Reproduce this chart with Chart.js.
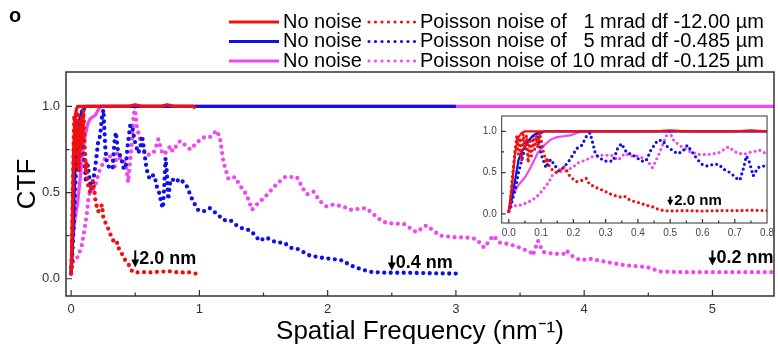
<!DOCTYPE html>
<html>
<head>
<meta charset="utf-8">
<script src="https://cdn.jsdelivr.net/npm/chart.js@4.4.1/dist/chart.umd.min.js"></script>
<style>
  body { margin: 0; background: #fff; }
  #wrap { position: relative; width: 778px; height: 348px; overflow: hidden; }
  #main { position: absolute; left: 0; top: 0; }
  #inset { position: absolute; left: 460px; top: 105px; }
</style>
</head>
<body>
<div id="wrap">
  <canvas id="main" width="778" height="348"></canvas>
  <canvas id="inset" width="318" height="140"></canvas>
</div>
<script>
// series: spatial frequency (nm^-1) and CTF values
const redSolidFreq = [0, 0.01, 0.02, 0.03, 0.04, 0.05, 0.1, 0.15, 0.2, 0.25, 0.3, 0.35, 0.4, 0.45, 0.5, 0.55, 0.6, 0.65, 0.7, 0.75, 0.8, 0.85, 0.9, 0.95, 0.97];
const redSolidCtf  = [0.03, 0.35, 0.75, 0.93, 0.98, 1.0, 1.0, 1.0, 1.0, 1.0, 1.0, 1.0, 1.0, 1.0, 1.01, 1.0, 1.0, 1.0, 1.0, 1.01, 1.0, 1.0, 1.0, 1.0, 0.99];

const redDotFreq = [0, 0.005, 0.01, 0.015, 0.02, 0.025, 0.03, 0.035, 0.04, 0.045, 0.05, 0.055, 0.06, 0.065, 0.07, 0.075, 0.08, 0.085, 0.09, 0.095, 0.1, 0.105, 0.11, 0.115, 0.12, 0.125, 0.13, 0.14, 0.15, 0.16, 0.17, 0.18, 0.19, 0.2, 0.21, 0.22, 0.23, 0.24, 0.25, 0.26, 0.27, 0.28, 0.29, 0.3, 0.31, 0.32, 0.33, 0.34, 0.35, 0.36, 0.37, 0.38, 0.39, 0.4, 0.41, 0.42, 0.43, 0.44, 0.45, 0.46, 0.47, 0.48, 0.5, 0.55, 0.6, 0.65, 0.7, 0.75, 0.8, 0.85, 0.9, 0.97];
const redDotCtf  = [0.03, 0.15, 0.4, 0.6, 0.8, 0.95, 0.72, 0.92, 0.65, 0.97, 0.78, 0.95, 0.62, 0.88, 0.7, 0.92, 0.78, 0.95, 0.8, 0.98, 0.9, 0.78, 0.72, 0.62, 0.68, 0.58, 0.55, 0.52, 0.5, 0.54, 0.57, 0.52, 0.45, 0.42, 0.39, 0.4, 0.41, 0.43, 0.36, 0.34, 0.32, 0.3, 0.29, 0.27, 0.25, 0.23, 0.22, 0.21, 0.2, 0.21, 0.18, 0.16, 0.15, 0.14, 0.13, 0.11, 0.1, 0.09, 0.08, 0.06, 0.05, 0.04, 0.035, 0.04, 0.035, 0.04, 0.04, 0.045, 0.04, 0.035, 0.04, 0.03];

const blueSolidFreq = [0, 0.01, 0.02, 0.03, 0.04, 0.05, 0.06, 0.07, 0.08, 0.09, 0.1, 0.11, 3.0];
const blueSolidCtf  = [0.03, 0.2, 0.42, 0.65, 0.75, 0.82, 0.88, 0.93, 0.96, 0.98, 0.98, 1.0, 1.0];

const blueDotFreq = [0, 0.01, 0.02, 0.03, 0.04, 0.05, 0.06, 0.07, 0.08, 0.09, 0.095, 0.1, 0.11, 0.115, 0.12, 0.13, 0.14, 0.155, 0.17, 0.19, 0.21, 0.226, 0.242, 0.252, 0.267, 0.276, 0.298, 0.323, 0.337, 0.349, 0.364, 0.379, 0.39, 0.41, 0.425, 0.44, 0.461, 0.476, 0.492, 0.507, 0.522, 0.537, 0.553, 0.568, 0.584, 0.599, 0.614, 0.635, 0.65, 0.666, 0.686, 0.706, 0.716, 0.726, 0.736, 0.746, 0.757, 0.772, 0.788, 0.81, 0.85, 0.9, 0.95, 0.99, 1.03, 1.08, 1.13, 1.19, 1.24, 1.29, 1.34, 1.4, 1.47, 1.52, 1.6, 1.66, 1.71, 1.76, 1.86, 1.97, 2.04, 2.12, 2.17, 2.25, 2.33, 2.45, 2.6, 2.8, 3.0];
const blueDotCtf  = [0.03, 0.15, 0.3, 0.5, 0.65, 0.79, 0.87, 0.92, 0.96, 0.98, 0.86, 0.72, 0.62, 0.56, 0.6, 0.66, 0.6, 0.52, 0.56, 0.66, 0.79, 0.83, 0.95, 0.98, 0.75, 0.69, 0.64, 0.64, 0.79, 0.85, 0.75, 0.72, 0.7, 0.64, 0.64, 0.77, 0.89, 0.89, 0.81, 0.77, 0.73, 0.75, 0.83, 0.75, 0.66, 0.6, 0.58, 0.6, 0.6, 0.54, 0.5, 0.43, 0.41, 0.54, 0.7, 0.62, 0.46, 0.56, 0.58, 0.56, 0.58, 0.54, 0.45, 0.4, 0.39, 0.41, 0.38, 0.34, 0.34, 0.31, 0.29, 0.28, 0.22, 0.24, 0.21, 0.21, 0.18, 0.175, 0.135, 0.12, 0.115, 0.105, 0.08, 0.058, 0.04, 0.035, 0.035, 0.032, 0.03];

const pinkSolidFreq = [0, 0.01, 0.03, 0.05, 0.07, 0.09, 0.11, 0.13, 0.15, 0.17, 0.19, 0.21, 0.23, 5.6];
const pinkSolidCtf  = [0.03, 0.22, 0.35, 0.44, 0.58, 0.74, 0.83, 0.9, 0.93, 0.94, 0.95, 0.98, 1.0, 1.0];

const pinkDotFreq = [0, 0.01, 0.03, 0.06, 0.085, 0.105, 0.125, 0.135, 0.15, 0.175, 0.196, 0.216, 0.237, 0.257, 0.278, 0.3, 0.318, 0.339, 0.359, 0.38, 0.4, 0.426, 0.445, 0.466, 0.486, 0.497, 0.512, 0.537, 0.563, 0.589, 0.62, 0.65, 0.68, 0.706, 0.727, 0.752, 0.777, 0.79, 0.85, 0.93, 0.98, 1.03, 1.08, 1.135, 1.16, 1.187, 1.226, 1.278, 1.317, 1.37, 1.41, 1.447, 1.525, 1.603, 1.668, 1.76, 1.81, 1.84, 1.89, 1.94, 1.99, 2.044, 2.12, 2.175, 2.3, 2.38, 2.43, 2.51, 2.59, 2.69, 2.77, 2.876, 3.0, 3.08, 3.16, 3.22, 3.29, 3.34, 3.42, 3.5, 3.58, 3.6, 3.64, 3.68, 3.76, 3.84, 3.86, 3.9, 3.97, 4.045, 4.175, 4.33, 4.49, 4.59, 4.8, 5.0, 5.2, 5.5];
const pinkDotCtf  = [0.03, 0.1, 0.1, 0.14, 0.2, 0.29, 0.39, 0.47, 0.51, 0.52, 0.56, 0.62, 0.65, 0.69, 0.71, 0.71, 0.71, 0.65, 0.73, 0.7, 0.7, 0.66, 0.56, 0.73, 0.93, 1.0, 0.88, 0.81, 0.75, 0.72, 0.72, 0.74, 0.81, 0.74, 0.72, 0.75, 0.77, 0.74, 0.8, 0.75, 0.79, 0.82, 0.82, 0.86, 0.82, 0.68, 0.58, 0.59, 0.54, 0.485, 0.4, 0.43, 0.485, 0.55, 0.59, 0.59, 0.52, 0.49, 0.505, 0.45, 0.42, 0.43, 0.42, 0.4, 0.41, 0.36, 0.33, 0.32, 0.32, 0.27, 0.31, 0.25, 0.24, 0.24, 0.23, 0.18, 0.25, 0.21, 0.2, 0.18, 0.155, 0.135, 0.22, 0.155, 0.145, 0.145, 0.165, 0.135, 0.107, 0.116, 0.097, 0.077, 0.068, 0.042, 0.038, 0.038, 0.038, 0.038];

// legend texts
const solidLabels = ['No noise', 'No noise', 'No noise'];
const dotLabels = ['Poisson noise of   1 mrad df -12.00 \u00b5m', 'Poisson noise of   5 mrad df -0.485 \u00b5m', 'Poisson noise of 10 mrad df -0.125 \u00b5m'];

// resolution notes (arrow position, arrow top / tip, text)
const mainNoteFreq = [0.5, 2.5, 5.0];
const mainNoteTop = [0.165, 0.136, 0.165];
const mainNoteTip = [0.066, 0.048, 0.077];
const mainNoteText = ['2.0 nm', '0.4 nm', '0.2 nm'];
const insetNoteFreq = [0.5];
const insetNoteTop = [0.21];
const insetNoteTip = [0.1];
const insetNoteText = ['2.0 nm'];

const colors = ['#f01010', '#1010e8', '#f048f0'];
const FONT = "'Liberation Sans', Arial, sans-serif";

function pts(xs, ys) {
  return xs.map((x, i) => ({x: x, y: ys[i]}));
}

function makeSets(solidW, dotW, dotGap) {
  const pairs = [
    [redSolidFreq, redSolidCtf, redDotFreq, redDotCtf],
    [blueSolidFreq, blueSolidCtf, blueDotFreq, blueDotCtf],
    [pinkSolidFreq, pinkSolidCtf, pinkDotFreq, pinkDotCtf]
  ];
  let sets = [];
  pairs.forEach((p, i) => {
    sets.push({
      label: solidLabels[i], data: pts(p[0], p[1]),
      borderColor: colors[i], borderWidth: solidW, pointRadius: 0,
      borderJoinStyle: 'round', tension: 0
    });
    sets.push({
      label: dotLabels[i], data: pts(p[2], p[3]),
      borderColor: colors[i], borderWidth: dotW, pointRadius: 0,
      borderDash: [0, dotGap], borderCapStyle: 'round', borderJoinStyle: 'round', tension: 0
    });
  });
  return sets;
}

// frame box + inward ticks
function frameTicks(len) {
  return {
    id: 'frameTicks',
    beforeDraw(chart) {
      const a = chart.chartArea, ctx = chart.ctx;
      ctx.save();
      ctx.fillStyle = '#fff';
      ctx.fillRect(a.left, a.top, a.right - a.left, a.bottom - a.top);
      ctx.restore();
    },
    afterDraw(chart) {
      const a = chart.chartArea, ctx = chart.ctx;
      const xs = chart.scales.x, ys = chart.scales.y;
      ctx.save();
      ctx.strokeStyle = '#333';
      ctx.lineWidth = len > 4 ? 1.5 : 1;
      ctx.strokeRect(a.left, a.top, a.right - a.left, a.bottom - a.top);
      ctx.lineWidth = 1.2;
      const xv = xs.ticks.map(t => t.value);
      const yv = ys.ticks.map(t => t.value);
      const xstep = xv[1] - xv[0], ystep = yv[1] - yv[0];
      ctx.beginPath();
      for (let v = xv[0] - xstep / 2; v <= xs.max; v += xstep / 2) {
        if (v < xs.min) continue;
        const major = xv.some(t => Math.abs(t - v) < 1e-6);
        const px = xs.getPixelForValue(v);
        ctx.moveTo(px, a.bottom);
        ctx.lineTo(px, a.bottom - (major ? len : len * 0.6));
      }
      for (let v = yv[0] - ystep / 2; v <= ys.max; v += ystep / 2) {
        if (v < ys.min) continue;
        const major = yv.some(t => Math.abs(t - v) < 1e-6);
        const py = ys.getPixelForValue(v);
        ctx.moveTo(a.left, py);
        ctx.lineTo(a.left + (major ? len : len * 0.6), py);
      }
      ctx.stroke();
      ctx.restore();
    }
  };
}

function notes(freq, top, tip, text, size, head) {
  return {
    id: 'notes',
    afterDatasetsDraw(chart) {
      const ctx = chart.ctx, xs = chart.scales.x, ys = chart.scales.y;
      ctx.save();
      ctx.fillStyle = '#000';
      ctx.strokeStyle = '#000';
      freq.forEach((f, i) => {
        const x = xs.getPixelForValue(f);
        const y0 = ys.getPixelForValue(top[i]);
        const y1 = ys.getPixelForValue(tip[i]);
        ctx.lineWidth = 2;
        ctx.beginPath();
        ctx.moveTo(x, y0);
        ctx.lineTo(x, y1 - head + 1);
        ctx.stroke();
        ctx.beginPath();
        ctx.moveTo(x - head / 2, y1 - head);
        ctx.lineTo(x + head / 2, y1 - head);
        ctx.lineTo(x, y1);
        ctx.closePath();
        ctx.fill();
        ctx.font = 'bold ' + size + 'px ' + FONT;
        ctx.textBaseline = 'middle';
        ctx.textAlign = 'left';
        ctx.fillText(text[i], x + 4, (y0 + y1) / 2);
      });
      ctx.restore();
    }
  };
}

const legendPlugin = {
  id: 'rowsLegend',
  afterDraw(chart) {
    const ctx = chart.ctx;
    const sets = chart.data.datasets;
    const rowY = [22, 41.5, 61];
    ctx.save();
    ctx.font = 'bold 20px ' + FONT;
    ctx.textBaseline = 'middle';
    ctx.fillStyle = '#000';
    ctx.fillText('o', 9, 16);
    for (let i = 0; i < 3; i++) {
      const y = rowY[i];
      ctx.strokeStyle = sets[i * 2].borderColor;
      ctx.lineWidth = 3.2;
      ctx.setLineDash([]);
      ctx.beginPath(); ctx.moveTo(229, y); ctx.lineTo(279, y); ctx.stroke();
      ctx.fillStyle = '#000';
      ctx.font = '20px ' + FONT;
      ctx.fillText(sets[i * 2].label, 283, y);
      ctx.lineWidth = 3.2;
      ctx.lineCap = 'round';
      ctx.setLineDash([0, 6.5]);
      ctx.beginPath(); ctx.moveTo(369, y); ctx.lineTo(416, y); ctx.stroke();
      ctx.lineCap = 'butt';
      ctx.setLineDash([]);
      ctx.fillText(sets[i * 2 + 1].label, 420, y);
    }
    ctx.restore();
  }
};

new Chart(document.getElementById('main'), {
  type: 'line',
  data: { datasets: makeSets(3.3, 4.3, 6.5) },
  options: {
    responsive: false,
    animation: false,
    layout: { padding: { top: 72, right: 4, left: 0, bottom: 0 } },
    plugins: { legend: { display: false }, tooltip: { enabled: false } },
    scales: {
      x: {
        type: 'linear', min: -0.04, max: 5.48,
        grid: { display: false, drawTicks: false }, border: { display: false },
        ticks: { stepSize: 1, includeBounds: false, autoSkip: false, padding: 6, color: '#333', font: { family: FONT, size: 13 } },
        title: { display: true, text: 'Spatial Frequency (nm\u207b\u00b9)', color: '#000', font: { family: FONT, size: 26 }, padding: { top: 0, bottom: 1 } },
        afterFit: s => { s.height = 52; }
      },
      y: {
        min: -0.1, max: 1.2,
        grid: { display: false, drawTicks: false }, border: { display: false },
        ticks: { stepSize: 0.5, includeBounds: false, padding: 6, color: '#333', font: { family: FONT, size: 13 }, callback: v => v.toFixed(1) },
        title: { display: true, text: 'CTF', color: '#000', font: { family: FONT, size: 26 }, padding: { top: 12, bottom: 0 } },
        afterFit: s => { s.width = 66; }
      }
    }
  },
  plugins: [frameTicks(6), notes(mainNoteFreq, mainNoteTop, mainNoteTip, mainNoteText, 18, 8), legendPlugin]
});

new Chart(document.getElementById('inset'), {
  type: 'line',
  data: { datasets: makeSets(2.2, 3.2, 5) },
  options: {
    responsive: false,
    animation: false,
    layout: { padding: { top: 5.7, right: 7.3, left: 0, bottom: 0 } },
    plugins: { legend: { display: false }, tooltip: { enabled: false } },
    scales: {
      x: {
        type: 'linear', min: -0.022, max: 0.8,
        grid: { display: false, drawTicks: false }, border: { display: false },
        ticks: { stepSize: 0.1, includeBounds: false, autoSkip: false, maxRotation: 0, padding: 4, color: '#444', font: { family: FONT, size: 10 }, callback: v => v.toFixed(1) },
        afterFit: s => { s.height = 22; }
      },
      y: {
        min: -0.11, max: 1.185,
        grid: { display: false, drawTicks: false }, border: { display: false },
        ticks: { stepSize: 0.5, includeBounds: false, padding: 5, color: '#444', font: { family: FONT, size: 10 }, callback: v => v.toFixed(1) },
        afterFit: s => { s.width = 41.7; }
      }
    }
  },
  plugins: [frameTicks(4), notes(insetNoteFreq, insetNoteTop, insetNoteTip, insetNoteText, 15, 6)]
});
</script>
</body>
</html>
